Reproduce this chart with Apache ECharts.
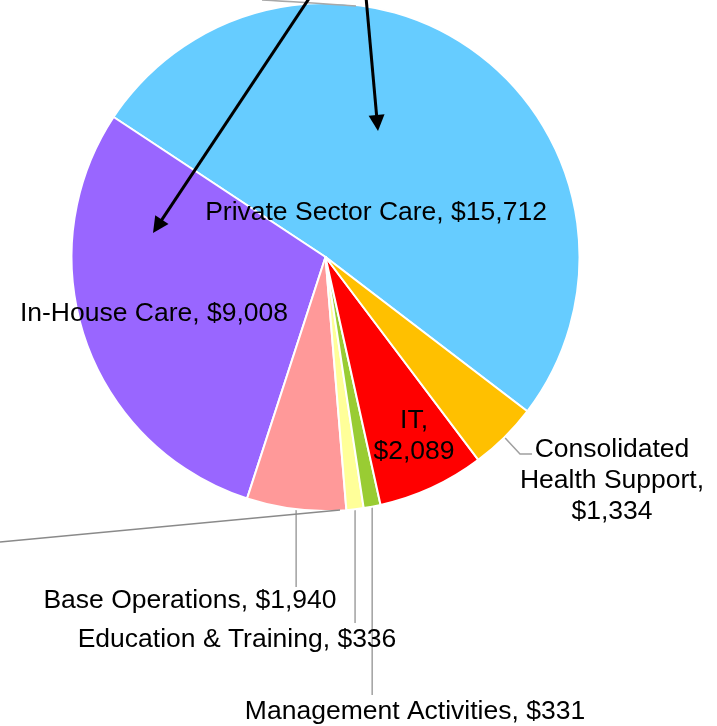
<!DOCTYPE html>
<html>
<head>
<meta charset="utf-8">
<script src="https://cdn.jsdelivr.net/npm/echarts@6/dist/echarts.min.js"></script>
<style>
  html, body { margin: 0; padding: 0; background: #fff; }
  #costPie { width: 717px; height: 726px; }
</style>
</head>
<body>
<div id="costPie"></div>
<script>
// slices, counter-clockwise from the lower right edge of Private Sector Care
var sliceNames = ['Private Sector Care', 'In-House Care', 'Base Operations', 'Education & Training',
                  'Management Activities', 'IT', 'Consolidated Health Support'];
var sliceValues = [15712, 9008, 1940, 336, 331, 2089, 1334];

var sliceColors = ['#66CCFF', '#9966FF', '#FF9999', '#FFFF99', '#99CC33', '#FF0000', '#FFC000'];

// where each label sits (centre of the text) and where its leader ends
var labelSpots = [
    { x: 376, y: 213 },
    { x: 154, y: 314 },
    { x: 190, y: 601, lineEnd: 587 },
    { x: 237, y: 640, lineEnd: 623 },
    { x: 415, y: 712, lineEnd: 695 },
    { x: 414, y: 436 },
    { x: 612, y: 481, elbow: [520, 454], lineEnd: 532 }
];

function fmtMoney(v) {
    return '$' + v.toLocaleString('en-US');
}

function arrow(x0, y0, x1, y1) {
    var dx = x1 - x0, dy = y1 - y0;
    var len = Math.sqrt(dx * dx + dy * dy);
    var ux = dx / len, uy = dy / len;
    var headLen = 16, headW = 8;
    var bx = x1 - ux * headLen, by = y1 - uy * headLen;
    return [
        {
            type: 'line',
            shape: { x1: x0, y1: y0, x2: bx + ux * 2, y2: by + uy * 2 },
            style: { stroke: '#000', lineWidth: 3 },
            z: 100
        },
        {
            type: 'polygon',
            shape: { points: [[x1, y1], [bx - uy * headW, by + ux * headW], [bx + uy * headW, by - ux * headW]] },
            style: { fill: '#000' },
            z: 100
        }
    ];
}

var costPie = echarts.init(document.getElementById('costPie'));

var pieData = sliceNames.map(function (n, i) {
    var inside = (i === 0 || i === 1 || i === 5);
    return {
        name: n,
        value: sliceValues[i],
        itemStyle: { color: sliceColors[i] },
        label: { position: inside ? 'inside' : 'outside' },
        labelLine: { show: !inside }
    };
});

var costPie_option = {
    animation: false,
    series: [
        {
            type: 'pie',
            center: [325.5, 257],
            radius: [0, 254],
            startAngle: -37.4,
            clockwise: false,
            avoidLabelOverlap: false,
            itemStyle: { borderColor: '#fff', borderWidth: 2 },
            label: {
                color: '#000',
                fontFamily: '"Liberation Sans", Arial, sans-serif',
                fontSize: 26.5,
                lineHeight: 31,
                align: 'center',
                formatter: function (p) {
                    if (p.dataIndex === 5) return p.name + ',\n' + fmtMoney(p.value);
                    if (p.dataIndex === 6) return 'Consolidated\nHealth Support,\n' + fmtMoney(p.value);
                    return p.name + ', ' + fmtMoney(p.value);
                }
            },
            labelLine: {
                lineStyle: { color: '#a0a0a0', width: 1.5 }
            },
            labelLayout: function (params) {
                var i = params.dataIndex;
                var s = labelSpots[i];
                var out = { x: s.x, y: s.y, align: 'center', verticalAlign: 'middle' };
                var pts = params.labelLinePoints;
                if (pts && s.lineEnd) {
                    var p0 = pts[0];
                    if (s.elbow) {
                        out.labelLinePoints = [p0, s.elbow, [s.lineEnd, s.elbow[1]]];
                    } else {
                        out.labelLinePoints = [p0, [p0[0], (p0[1] + s.lineEnd) / 2], [p0[0], s.lineEnd]];
                    }
                }
                return out;
            },
            data: pieData
        }
    ],
    graphic: [].concat(
        arrow(310, -3, 153, 233),
        arrow(366, -3, 378, 131),
        [
            {
                type: 'line',
                shape: { x1: 0, y1: 542, x2: 340, y2: 510 },
                style: { stroke: '#8a8a8a', lineWidth: 1.5 },
                z: 50
            },
            {
                type: 'bezierCurve',
                shape: { x1: 262, y1: 0, cpx1: 300, cpy1: 2, x2: 356, y2: 6 },
                style: { stroke: '#a8a8a8', lineWidth: 1.5, fill: null },
                z: 50
            }
        ]
    )
};
costPie.setOption(costPie_option);
</script>
</body>
</html>
